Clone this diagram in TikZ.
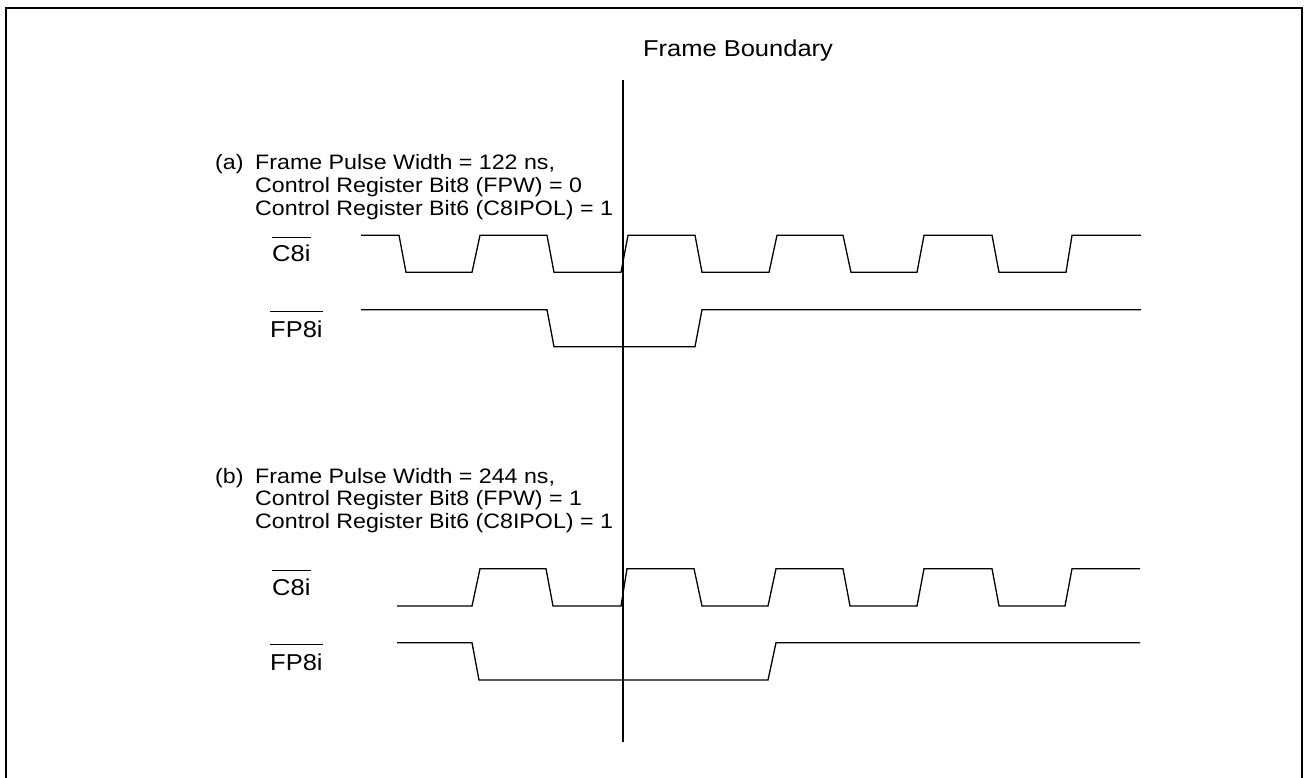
\documentclass[tikz,border=0pt]{standalone}
\usepackage{graphicx}
\usepackage{fontspec}
\setmainfont{Liberation Sans}
\newcommand{\sq}[1]{\scalebox{1}[0.9]{#1}}
\begin{document}
\begin{tikzpicture}[x=1pt,y=-1pt,
  wave/.style={line width=1.3pt,line join=miter},
  captxt/.style={inner sep=0pt,anchor=base west,font=\fontsize{23.2}{23}\selectfont},
  sigtxt/.style={inner sep=0pt,anchor=base west,font=\fontsize{25.5}{25}\selectfont},
  bar/.style={line width=1.6pt}]
\useasboundingbox (0,0) rectangle (1305,778);
% border
\draw[line width=2pt] (6,778) -- (6,8) -- (1302,8) -- (1302,778);
% frame boundary
\node[inner sep=0pt,anchor=base,font=\fontsize{25.5}{25}\selectfont] (fb) at (738,57) {\sq{Frame Boundary}};
\coordinate (fbtop) at (622.7,80);
\coordinate (fbbot) at (622.7,742);
\draw[line width=1.8pt] (fbtop) -- (fbbot);
% (a) caption
\node[captxt] (la) at (215,170) {\sq{(a)}};
\node[captxt] (ca1) at (255,170) {\sq{Frame Pulse Width = 122 ns,}};
\node[captxt] (ca2) at (255,192.5) {\sq{Control Register Bit8 (FPW) = 0}};
\node[captxt] (ca3) at (255,215) {\sq{Control Register Bit6 (C8IPOL) = 1}};
\node[sigtxt] (c8a) at (272,261.7) {\sq{C8i}};
\node[sigtxt] (fpa) at (270,337.3) {\sq{FP8i}};
\draw[bar] ([yshift=7.5pt]c8a.north west) -- ([yshift=7.5pt]c8a.north east);
\draw[bar] ([yshift=9pt]fpa.north west) -- ([yshift=9pt]fpa.north east);
% (a) C8i
\draw[wave] (361,235.3) -- (399,235.3) -- (406,272.3) -- (472,272.3) -- (480,235.3) -- (547,235.3) -- (554,272.3) -- (621,272.3) -- (628,235.3) -- (695,235.3) -- (702,272.3) -- (769,272.3) -- (777,235.3) -- (843,235.3) -- (851,272.3) -- (917,272.3) -- (924,235.3) -- (992,235.3) -- (999,272.3) -- (1066,272.3) -- (1072,235.3) -- (1141,235.3);
% (a) FP8i
\draw[wave] (361,309.7) -- (547,309.7) -- (554,346.7) -- (695,346.7) -- (702,309.7) -- (1141,309.7);
% (b) caption
\node[captxt] (lb) at (215,483) {\sq{(b)}};
\node[captxt] (cb1) at (255,483) {\sq{Frame Pulse Width = 244 ns,}};
\node[captxt] (cb2) at (255,505.5) {\sq{Control Register Bit8 (FPW) = 1}};
\node[captxt] (cb3) at (255,528) {\sq{Control Register Bit6 (C8IPOL) = 1}};
\node[sigtxt] (c8b) at (272,595) {\sq{C8i}};
\node[sigtxt] (fpb) at (270,670.3) {\sq{FP8i}};
\draw[bar] ([yshift=7.5pt]c8b.north west) -- ([yshift=7.5pt]c8b.north east);
\draw[bar] ([yshift=9pt]fpb.north west) -- ([yshift=9pt]fpb.north east);
% (b) C8i
\draw[wave] (397,606) -- (472,606) -- (480,568.7) -- (546,568.7) -- (553,606) -- (621,606) -- (627,568.7) -- (694,568.7) -- (702,606) -- (768,606) -- (776,568.7) -- (843,568.7) -- (850,606) -- (917,606) -- (924,568.7) -- (992,568.7) -- (999,606) -- (1065,606) -- (1072,568.7) -- (1140,568.7);
% (b) FP8i
\draw[wave] (397,642.7) -- (472,642.7) -- (479,680) -- (768,680) -- (776,642.7) -- (1140,642.7);
\end{tikzpicture}
\end{document}
